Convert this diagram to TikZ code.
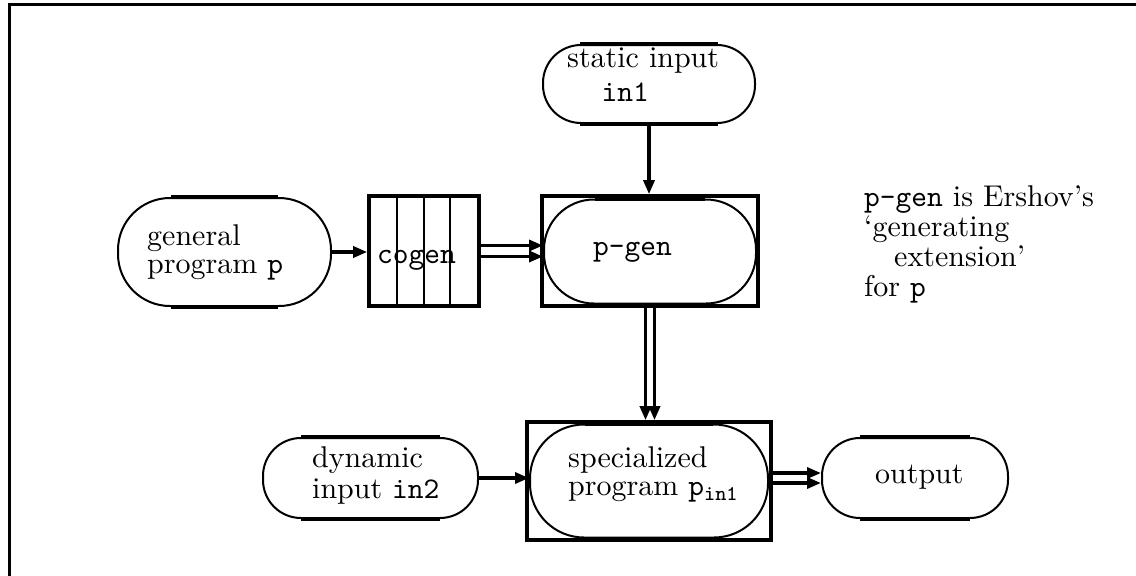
\documentclass[tikz,border=0pt]{standalone}
\usepackage{graphicx}
\usetikzlibrary{arrows.meta}

% text set at 10pt and enlarged, lines stacked with a given baseline skip
\newcommand\txt[2]{\scalebox{3.0}{\vtop{\baselineskip=#1\lineskiplimit=-\maxdimen #2}}}

\begin{document}
\begin{tikzpicture}[x=1pt,y=-1pt,
  stadium/.style n args={3}{draw, line width=2pt, rounded corners=#3,
    minimum width=#1, minimum height=#2, inner sep=0pt},
  boxed/.style={draw, line width=3.6pt, inner sep=0pt},
  label text/.style={anchor=base west, inner sep=0pt},
  arr/.style={line width=3.3pt, -{Triangle[length=14pt,width=11pt]}},
  flat/.style={line width=4pt}]

\useasboundingbox (0,0) rectangle (1136,576);

% frame
\draw[line width=2.6pt] (9.3,576) -- (9.3,4.5) -- (1136,4.5);

% shapes
\node[stadium={213pt}{108pt}{52pt}] (gp) at (224.5,252) {};
\node[stadium={212pt}{78pt}{38pt}] (st) at (649,84) {};
\node[boxed, minimum width=110pt, minimum height=110pt] (cg) at (424,251) {};
\node[boxed, minimum width=216pt, minimum height=110pt] (pgbox) at (650,251) {};
\node[stadium={212pt}{104pt}{50pt}] (pg) at (650,251.5) {};
\node[boxed, minimum width=244pt, minimum height=118pt] (spbox) at (649,481) {};
\node[stadium={238pt}{113pt}{54pt}] (sp) at (649,481) {};
\node[stadium={215pt}{80pt}{38pt}] (dy) at (370.5,478) {};
\node[stadium={186pt}{80pt}{38pt}] (out) at (915,478) {};

% heavier straight edges of the ovals
\foreach \n/\r in {gp/54pt, st/38pt, pg/52pt, sp/56pt, dy/39pt, out/39pt}{
  \draw[flat] ([xshift=\r]\n.north west) -- ([xshift=-\r]\n.north east);
  \draw[flat] ([xshift=\r]\n.south west) -- ([xshift=-\r]\n.south east);
}

% cogen compartments
\foreach \dx in {-27pt, 0pt, 26pt}
  \draw[line width=2pt] ([xshift=\dx]cg.north) -- ([xshift=\dx]cg.south);

% texts
\node[label text] (gp-t) at (147,245)
  {\txt{9.6pt}{\hbox{general}\hbox{program \texttt{p}}}};
\node[label text] (st-t) at (567,67)
  {\txt{11.6pt}{\hbox{static input}\hbox{\hspace*{11.5pt}\texttt{in1}}}};
\node[label text] (cg-t) at (377,263) {\scalebox{3.0}{\texttt{cogen}}};
\node[label text] (pg-t) at (593,255) {\scalebox{3.0}{\texttt{p-gen}}};
\node[label text] (sp-t) at (568,467)
  {\txt{9.6pt}{\hbox{specialized}\hbox{program \texttt{p}$_{\mathtt{in1}}$}}};
\node[label text] (dy-t) at (312,467)
  {\txt{10.6pt}{\hbox{dynamic}\hbox{input \texttt{in2}}}};
\node[label text] (out-t) at (875,483) {\scalebox{3.0}{output}};
\node[label text] (note) at (864,206)
  {\txt{10pt}{\hbox{\texttt{p-gen} is Ershov's}\hbox{`generating}%
    \hbox{\hspace*{10pt}extension'}\hbox{for \texttt{p}}}};

% connectors
\draw[arr] (st.south) -- (st.south |- pgbox.north);
\draw[arr] (gp.east) -- (gp.east -| cg.west);
\coordinate (c1) at ([yshift=5.5pt]cg.east);
\coordinate (c2) at ([yshift=-5.5pt]cg.east);
\draw[arr] (c1) -- (c1 -| pg.west);
\draw[arr] (c2) -- (c2 -| pg.west);
\coordinate (d1) at ([xshift=-4.5pt]pgbox.south);
\coordinate (d2) at ([xshift=4.5pt]pgbox.south);
\draw[arr] (d1) -- (d1 |- spbox.north);
\draw[arr] (d2) -- (d2 |- spbox.north);
\draw[arr] (dy.east) -- (dy.east -| sp.west);
\coordinate (o1) at ([yshift=5pt]out.west);
\coordinate (o2) at ([yshift=-5pt]out.west);
\draw[arr] (o1 -| spbox.east) -- (o1);
\draw[arr] (o2 -| spbox.east) -- (o2);
\end{tikzpicture}
\end{document}
